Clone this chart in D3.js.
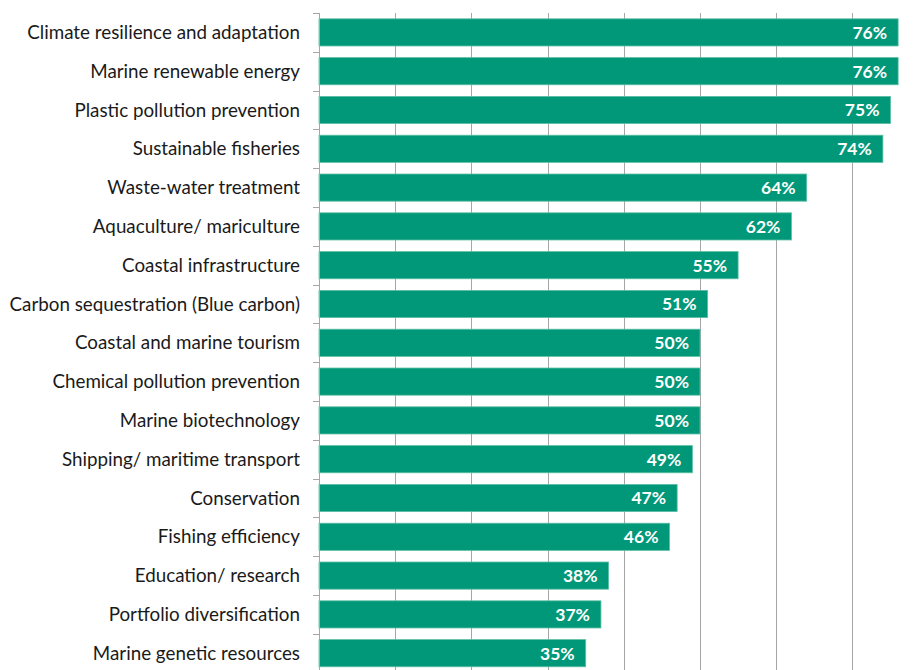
<!DOCTYPE html>
<html>
<head>
<meta charset="utf-8">
<script src="https://cdn.jsdelivr.net/npm/d3@7"></script>
<style>
  html, body { margin: 0; padding: 0; background: #fff; }
  svg { display: block; }
</style>
</head>
<body>
<svg id="chart" width="916" height="670"></svg>
<script>
// Share of respondents by ocean-economy sector (percent)
const categories = [
  "Climate resilience and adaptation",
  "Marine renewable energy",
  "Plastic pollution prevention",
  "Sustainable fisheries",
  "Waste-water treatment",
  "Aquaculture/ mariculture",
  "Coastal infrastructure",
  "Carbon sequestration (Blue carbon)",
  "Coastal and marine tourism",
  "Chemical pollution prevention",
  "Marine biotechnology",
  "Shipping/ maritime transport",
  "Conservation",
  "Fishing efficiency",
  "Education/ research",
  "Portfolio diversification",
  "Marine genetic resources"
];
const values = [76, 76, 75, 74, 64, 62, 55, 51, 50, 50, 50, 49, 47, 46, 38, 37, 35];
const gridTicks = [10, 20, 30, 40, 50, 60, 70];

const data = categories.map((c, i) => ({ category: c, value: values[i] }));

const svg = d3.select("#chart");
const plotLeft = 319, plotTop = 13, step = 38.8;

const x = d3.scaleLinear().domain([0, 80]).range([plotLeft, plotLeft + 609.6]);
const y = d3.scaleBand()
  .domain(categories)
  .range([plotTop, plotTop + step * categories.length])
  .paddingInner(0.3)
  .paddingOuter(0.15);

const axisColor = "#a6a6a6";

// vertical gridlines
svg.append("g")
  .selectAll("line")
  .data(gridTicks)
  .join("line")
  .attr("x1", d => Math.round(x(d)) + 0.5)
  .attr("x2", d => Math.round(x(d)) + 0.5)
  .attr("y1", plotTop)
  .attr("y2", 670)
  .attr("stroke", axisColor)
  .attr("stroke-width", 1);

// bars
svg.append("g")
  .selectAll("rect")
  .data(data)
  .join("rect")
  .attr("x", x(0))
  .attr("y", d => y(d.category))
  .attr("width", d => x(d.value) - x(0))
  .attr("height", y.bandwidth())
  .attr("fill", "#009878")
  .attr("stroke", "#5cbfa4")
  .attr("stroke-width", 0.8);

// category axis: line with ticks at band boundaries
const axisG = svg.append("g");
axisG.append("line")
  .attr("x1", plotLeft + 0.5).attr("x2", plotLeft + 0.5)
  .attr("y1", plotTop).attr("y2", 670)
  .attr("stroke", axisColor);
axisG.selectAll("line.tick")
  .data(d3.range(categories.length + 1))
  .join("line")
  .attr("class", "tick")
  .attr("x1", plotLeft - 6).attr("x2", plotLeft + 0.5)
  .attr("y1", i => Math.round(plotTop + i * step) + 0.5)
  .attr("y2", i => Math.round(plotTop + i * step) + 0.5)
  .attr("stroke", axisColor);

// category labels
svg.append("g")
  .selectAll("text")
  .data(data)
  .join("text")
  .attr("x", plotLeft - 19)
  .attr("y", d => y(d.category) + y.bandwidth() / 2)
  .attr("dy", "0.35em")
  .attr("text-anchor", "end")
  .attr("font-family", "Lato, 'Open Sans', sans-serif")
  .attr("font-size", 18.8)
  .attr("fill", "#1a1a1a")
  .text(d => d.category);

// value labels inside bar ends
svg.append("g")
  .selectAll("text")
  .data(data)
  .join("text")
  .attr("x", d => x(d.value) - 11)
  .attr("y", d => y(d.category) + y.bandwidth() / 2)
  .attr("dy", "0.37em")
  .attr("text-anchor", "end")
  .attr("font-family", "Lato, 'Open Sans', sans-serif")
  .attr("font-weight", "bold")
  .attr("font-size", 17.5)
  .attr("fill", "#ffffff")
  .text(d => d.value + "%");
</script>
</body>
</html>
